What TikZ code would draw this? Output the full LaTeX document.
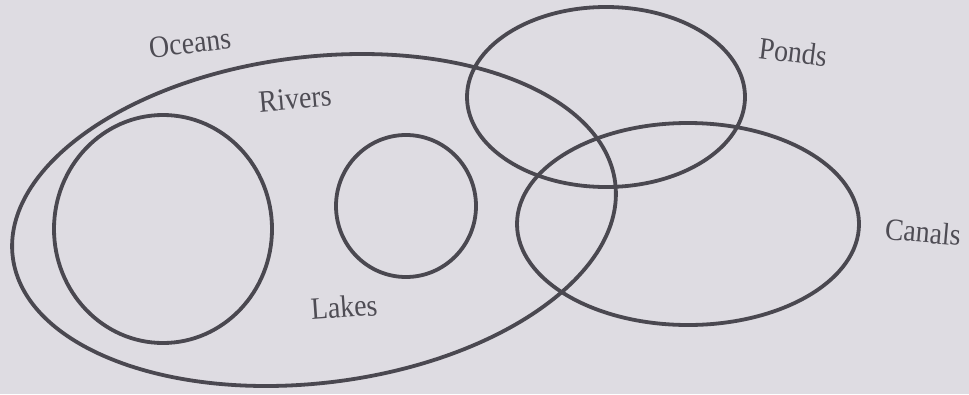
\documentclass[tikz,border=0pt]{standalone}
\usepackage{fontspec}
\setmainfont{Liberation Serif}
\usetikzlibrary{shapes.geometric}
\definecolor{paper}{RGB}{222,220,226}
\definecolor{ink}{RGB}{74,72,80}
\definecolor{txt}{RGB}{78,76,84}
\tikzset{
  setring/.style={ellipse, draw=ink, line width=3.8pt, inner sep=0pt, fill=none},
  setlabel/.style={text=txt, inner sep=0pt, font=\fontsize{31}{31}\selectfont, xscale=0.9}
}
\begin{document}
\begin{tikzpicture}[x=1pt,y=-1pt]
\fill[paper] (0,0) rectangle (969,394);
\useasboundingbox (0,0) rectangle (969,394);
% sets
\node[setring, minimum width=607pt, minimum height=326pt, rotate=7] (oceans) at (314,220) {};
\node[setring, minimum width=218pt, minimum height=228pt] (rivers) at (163,229) {};
\node[setring, minimum width=140pt, minimum height=142pt] (lakes) at (406,206) {};
\node[setring, minimum width=278pt, minimum height=180pt] (ponds) at (606,97) {};
\node[setring, minimum width=342pt, minimum height=202pt] (canals) at (688,224) {};
% labels
\node[rotate=7, setlabel] (loceans) at (190,43) {Oceans};
\node[rotate=5, setlabel] (lrivers) at (295,99) {Rivers};
\node[rotate=4, setlabel] (llakes) at (344,307) {Lakes};
\node[rotate=-7, setlabel] (lponds) at (793,52) {Ponds};
\node[rotate=-5, setlabel] (lcanals) at (923,232) {Canals};
\end{tikzpicture}
\end{document}
